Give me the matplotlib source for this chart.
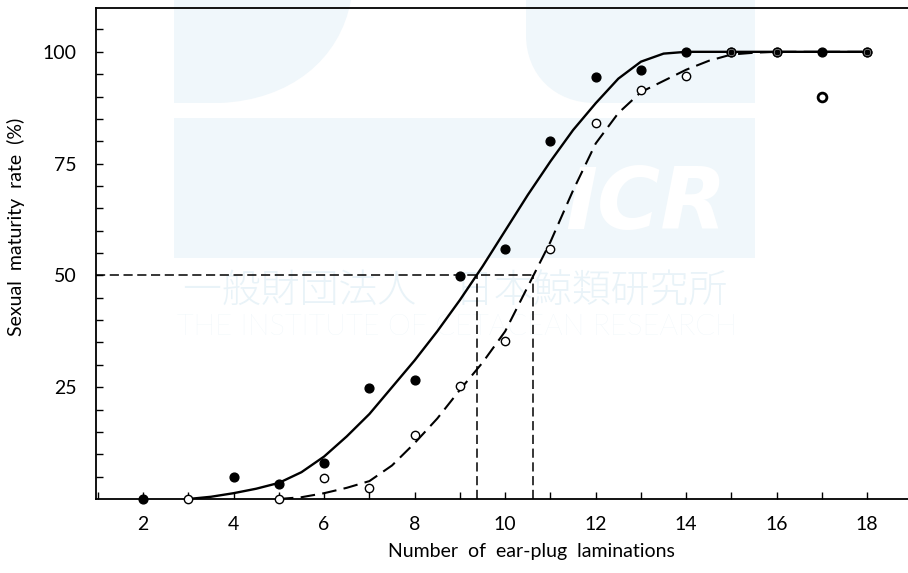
import matplotlib
matplotlib.use("Agg")
import matplotlib.pyplot as plt
from matplotlib.path import Path
from matplotlib.patches import PathPatch, Rectangle

# Sexual maturity rate by number of ear-plug laminations

solid_pts_x = [2, 4, 5, 6, 7, 8, 9, 10, 11, 12, 13, 14, 15, 16, 17, 18]
solid_pts_y = [0, 5, 3.4, 8, 24.8, 26.7, 49.9, 56, 80, 94.3, 95.9, 100, 100, 100, 100, 100]

open_pts_x = [3, 5, 6, 7, 8, 9, 10, 11, 12, 13, 14, 15, 16, 17, 18]
open_pts_y = [0, 0, 4.7, 2.4, 14.4, 25.3, 35.3, 56, 84, 91.4, 94.6, 100, 100, 89.9, 100]

# fitted curves
solid_curve_x = [3, 3.5, 4, 4.5, 5, 5.5, 6, 6.5, 7, 7.5, 8, 8.5, 9, 9.5, 10,
                 10.5, 11, 11.5, 12, 12.5, 13, 13.5, 14, 15, 16, 17, 18]
solid_curve_y = [0, 0.5, 1.3, 2.3, 3.6, 6, 9.5, 14, 19, 25, 31, 37.5, 44.5, 52, 60,
                 68, 75.5, 82.5, 88.5, 94, 97.8, 99.6, 100, 100, 100, 100, 100]

dashed_curve_x = [5, 5.5, 6, 6.5, 7, 7.5, 8, 8.5, 9, 9.5, 10, 10.5, 11, 11.5, 12,
                  12.5, 13, 13.5, 14, 14.5, 15, 15.5, 16, 17, 18]
dashed_curve_y = [0, 0.4, 1.3, 2.5, 4, 7.5, 12.5, 18, 24.4, 30.5, 37.5, 47.5, 57.5, 69, 79.5,
                  86.3, 91, 93.5, 96, 98, 99.4, 99.8, 100, 100, 100]

# 50 % points
mid_solid = 9.38
mid_dashed = 10.61

W, H = 908, 573
fig = plt.figure(figsize=(W / 100, H / 100), dpi=100)
plt.rcParams['font.family'] = ['Lato', 'DejaVu Sans']


def px(x, y):
    return (x / W, 1 - y / H)


# watermark behind the chart
wm = '#f0f7fb'
wm_text = '#e9f3f8'
left_shape = Path([px(174, 0), px(351, 0), px(340, 60), px(290, 100), px(220, 103),
                   px(174, 103), px(174, 0)],
                  [Path.MOVETO, Path.LINETO, Path.CURVE4, Path.CURVE4, Path.CURVE4,
                   Path.LINETO, Path.CLOSEPOLY])
fig.add_artist(PathPatch(left_shape, fc=wm, ec='none', transform=fig.transFigure, zorder=-5))
right_shape = Path([px(526, 0), px(755, 0), px(755, 103), px(595, 103), px(555, 103),
                    px(526, 75), px(526, 35), px(526, 0)],
                   [Path.MOVETO, Path.LINETO, Path.LINETO, Path.LINETO, Path.CURVE4,
                    Path.CURVE4, Path.CURVE4, Path.CLOSEPOLY])
fig.add_artist(PathPatch(right_shape, fc=wm, ec='none', transform=fig.transFigure, zorder=-5))
x0, y0 = px(174, 258)
fig.add_artist(Rectangle((x0, y0), (755 - 174) / W, (258 - 118) / H, fc=wm, ec='none',
                         transform=fig.transFigure, zorder=-5))
fig.text(*px(646, 206), 'ICR', color='white', fontsize=62, fontweight='bold', style='italic',
         ha='center', va='center', family=['DejaVu Sans'], zorder=-4)
fig.text(*px(455, 292), '一般財団法人　日本鯨類研究所', color=wm_text, fontsize=28,
         ha='center', va='center', family=['Noto Sans CJK JP', 'DejaVu Sans'],
         fontweight='light', zorder=-4)
fig.text(*px(457, 327), 'THE INSTITUTE OF CETACEAN RESEARCH', color=wm_text, fontsize=21,
         ha='center', va='center', family=['Lato', 'DejaVu Sans'], fontweight='light', zorder=-4)

ax = fig.add_axes([96 / W, 1 - 499 / H, (W - 96) / W, (499 - 8) / H])
ax.patch.set_visible(False)

# reference lines at 50 %
ax.plot([0.96, mid_dashed], [50, 50], color='black', lw=1.1, ls=(0, (6, 3)))
ax.plot([mid_solid, mid_solid], [0, 50], color='black', lw=1.1, ls=(0, (6, 3)))
ax.plot([mid_dashed, mid_dashed], [0, 50], color='black', lw=1.1, ls=(0, (6, 3)))

ax.plot(solid_curve_x, solid_curve_y, color='black', lw=1.7, solid_capstyle='round')
ax.plot(dashed_curve_x, dashed_curve_y, color='black', lw=1.5, ls=(0, (7, 3.5)))

ax.scatter(solid_pts_x, solid_pts_y, s=40, color='black', zorder=4, clip_on=False)
ax.scatter(open_pts_x, open_pts_y, s=36, facecolor='white', edgecolor='black',
           linewidth=1.0, zorder=5, clip_on=False)
# overlapping points drawn as a ring with a dot inside
ax.scatter([15, 16, 18], [100, 100, 100], s=12, color='black', zorder=6)
ax.scatter([17], [89.9], s=40, facecolor='white', edgecolor='black', linewidth=2.0, zorder=6)

ax.set_xlim(0.96, 18.9)
ax.set_ylim(0, 109.8)
ax.set_xticks(range(2, 19, 2))
ax.set_xticks(range(1, 19), minor=True)
ax.set_yticks([25, 50, 75, 100])
ax.set_yticks(range(5, 110, 5), minor=True)
ax.tick_params(which='both', direction='in', length=5, width=1.0)
ax.tick_params(axis='x', which='major', pad=12, labelsize=14)
ax.tick_params(axis='y', which='major', pad=14, labelsize=14)
ax.spines['right'].set_visible(False)
for s in ['left', 'bottom', 'top']:
    ax.spines[s].set_linewidth(1.3)

ax.set_xlabel('Number  of  ear-plug  laminations', fontsize=14)
ax.set_ylabel('Sexual  maturity  rate  (%)', fontsize=14)
ax.xaxis.set_label_coords(0.536, -0.09)
ax.yaxis.set_label_coords(-0.087, 0.555)

fig.savefig('out.png', dpi=100)
